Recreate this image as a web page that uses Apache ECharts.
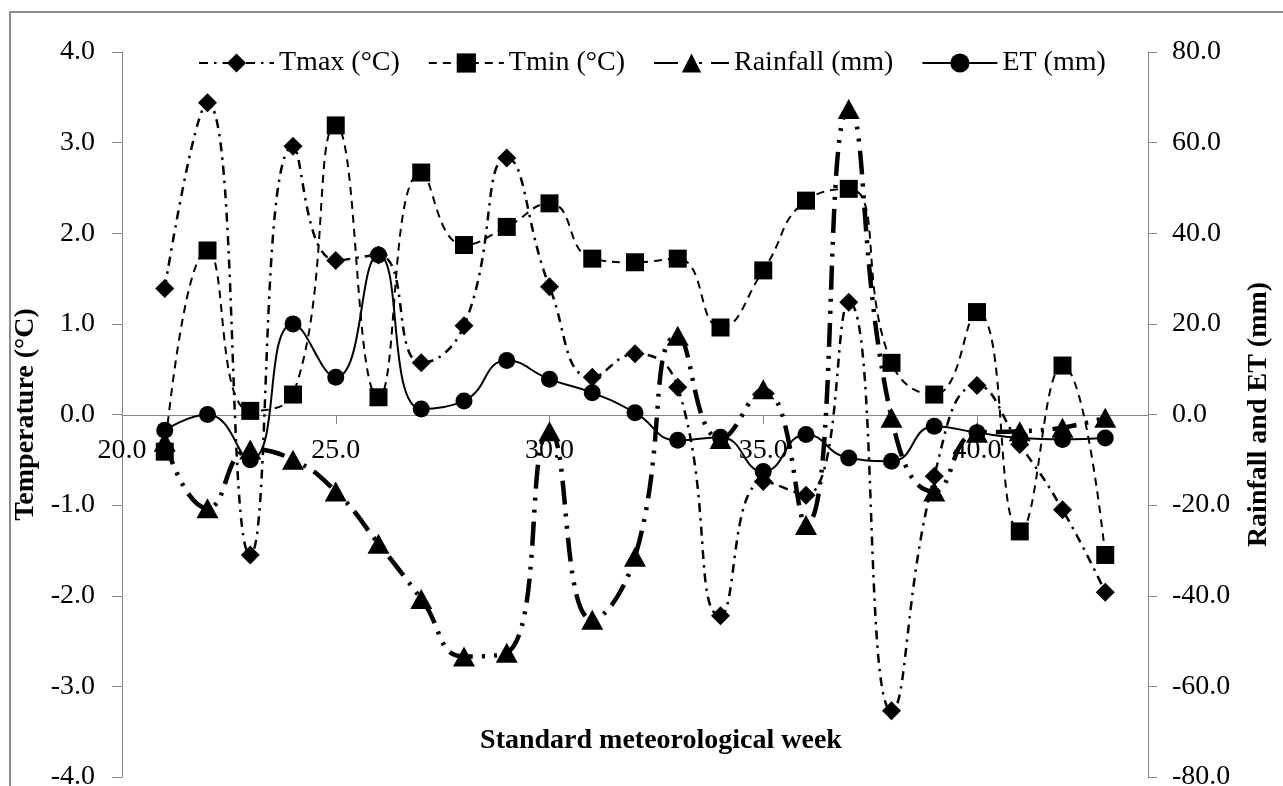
<!DOCTYPE html>
<html>
<head>
<meta charset="utf-8">
<script src="https://cdn.jsdelivr.net/npm/echarts@6/dist/echarts.min.js"></script>
<style>
html, body { margin: 0; padding: 0; background: #fff; }
#chart { width: 1283px; height: 786px; }
</style>
</head>
<body>
<div id="chart"></div>
<script>
// standard meteorological weeks
const weeks = [21, 22, 23, 24, 25, 26, 27, 28, 29, 30, 31, 32, 33, 34, 35, 36, 37, 38, 39, 40, 41, 42, 43]
// temperature (left axis)
const tmax = [1.39, 3.44, -1.55, 2.96, 1.70, 1.76, 0.57, 0.98, 2.83, 1.41, 0.41, 0.67, 0.30, -2.22, -0.74, -0.89, 1.24, -3.27, -0.68, 0.32, -0.33, -1.05, -1.96]
const tmin = [-0.41, 1.81, 0.04, 0.22, 3.19, 0.19, 2.67, 1.87, 2.07, 2.33, 1.72, 1.68, 1.72, 0.96, 1.59, 2.36, 2.49, 0.57, 0.22, 1.13, -1.29, 0.54, -1.55]
// rainfall and ET (right axis)
const rainfall = [-6.0, -20.7, -7.7, -10.0, -17.0, -28.5, -40.7, -53.4, -52.6, -3.7, -45.3, -31.4, 17.4, -5.4, 5.6, -24.4, 67.4, -0.7, -17.0, -4.0, -3.7, -2.9, -0.7]
const et = [-3.5, 0.0, -10.0, 20.0, 8.2, 35.2, 1.2, 3.0, 11.9, 7.8, 4.8, 0.4, -5.7, -5.0, -12.6, -4.4, -9.6, -10.3, -2.6, -4.0, -5.2, -5.5, -5.2]

const font = "'Liberation Serif', 'Times New Roman', serif"
const axisGrey = '#868686'

function pairs (ys) {
  return weeks.map((w, i) => [w, ys[i]])
}

let myChart = echarts.init(document.getElementById('chart'))
let option = {
  backgroundColor: '#fff',
  textStyle: { fontFamily: font, color: '#000' },
  animation: false,
  graphic: [
    {
      type: 'rect',
      shape: { x: 10, y: 12, width: 1300, height: 800 },
      style: { fill: 'none', stroke: '#8c8c8c', lineWidth: 2 },
      silent: true
    }
  ],
  legend: {
    left: 193,
    top: 44,
    itemWidth: 75,
    itemHeight: 24,
    itemGap: 28,
    textStyle: { fontFamily: font, fontSize: 28, color: '#000' },
    data: ['Tmax (°C)', 'Tmin (°C)', 'Rainfall (mm)', 'ET (mm)']
  },
  grid: {
    left: 122,
    right: 135,
    top: 52,
    bottom: 9,
    outerBoundsMode: 'none'
  },
  xAxis: {
    type: 'value',
    min: 20,
    max: 44,
    interval: 5,
    // the axis crosses the temperature axis at 0; moved up from the bottom of the grid
    offset: -362,
    name: 'Standard meteorological week',
    nameLocation: 'middle',
    nameGap: 312,
    nameTextStyle: { fontFamily: font, fontSize: 28, fontWeight: 'bold', color: '#000', padding: [0, 0, 0, 52] },
    axisLine: { onZero: false, lineStyle: { color: axisGrey, width: 1 } },
    axisTick: { show: true, length: 9, inside: false, lineStyle: { color: axisGrey } },
    axisLabel: {
      margin: 22,
      fontSize: 28,
      color: '#000',
      fontFamily: font,
      showMaxLabel: false,
      formatter: v => v.toFixed(1)
    },
    splitLine: { show: false }
  },
  yAxis: [
    {
      type: 'value',
      min: -4,
      max: 4,
      interval: 1,
      position: 'left',
      name: 'Temperature (°C)',
      nameLocation: 'middle',
      nameRotate: 90,
      nameGap: 64,
      nameTextStyle: { fontFamily: font, fontSize: 28, fontWeight: 'bold', color: '#000' },
      axisLine: { show: true, onZero: false, lineStyle: { color: axisGrey, width: 1 } },
      axisTick: { show: true, length: 10, lineStyle: { color: axisGrey } },
      axisLabel: { margin: 27, fontSize: 28, color: '#000', fontFamily: font, formatter: v => v.toFixed(1) },
      splitLine: { show: false }
    },
    {
      type: 'value',
      min: -80,
      max: 80,
      interval: 20,
      position: 'right',
      name: 'Rainfall and ET (mm)',
      nameLocation: 'middle',
      nameRotate: 90,
      nameGap: 97,
      nameTextStyle: { fontFamily: font, fontSize: 28, fontWeight: 'bold', color: '#000' },
      axisLine: { show: true, onZero: false, lineStyle: { color: axisGrey, width: 1 } },
      axisTick: { show: true, length: 9, lineStyle: { color: axisGrey } },
      axisLabel: { margin: 24, fontSize: 28, color: '#000', fontFamily: font, formatter: v => v.toFixed(1) },
      splitLine: { show: false }
    }
  ],
  series: [
    {
      name: 'Tmax (°C)',
      type: 'line',
      yAxisIndex: 0,
      smooth: 0.5,
      data: pairs(tmax),
      symbol: 'diamond',
      symbolSize: 19,
      itemStyle: { color: '#000' },
      lineStyle: { color: '#000', width: 2.5, type: [9, 6, 2.5, 6] }
    },
    {
      name: 'Tmin (°C)',
      type: 'line',
      yAxisIndex: 0,
      smooth: 0.5,
      data: pairs(tmin),
      symbol: 'rect',
      symbolSize: 18,
      itemStyle: { color: '#000' },
      lineStyle: { color: '#000', width: 2, type: [8, 6] }
    },
    {
      name: 'Rainfall (mm)',
      type: 'line',
      yAxisIndex: 1,
      smooth: 0.5,
      data: pairs(rainfall),
      symbol: 'triangle',
      symbolSize: [22, 20],
      itemStyle: { color: '#000' },
      lineStyle: { color: '#000', width: 4.5, type: [24, 9, 3, 9, 3, 9] }
    },
    {
      name: 'ET (mm)',
      type: 'line',
      yAxisIndex: 1,
      smooth: 0.5,
      data: pairs(et),
      symbol: 'circle',
      symbolSize: 17,
      itemStyle: { color: '#000' },
      lineStyle: { color: '#000', width: 2 }
    }
  ]
}

option && myChart.setOption(option)
</script>
</body>
</html>
